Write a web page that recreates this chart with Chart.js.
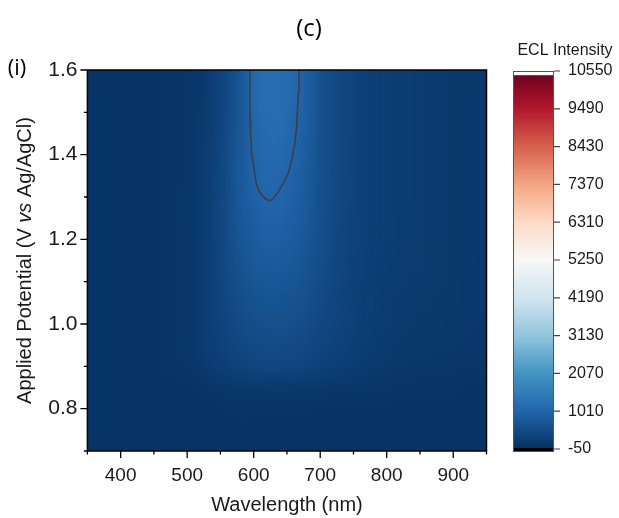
<!DOCTYPE html>
<html>
<head>
<meta charset="utf-8">
<script src="https://cdn.jsdelivr.net/npm/chart.js@4.4.1/dist/chart.umd.min.js"></script>
<style>
  html, body { margin: 0; padding: 0; background: #ffffff; }
  #wrap { position: relative; width: 619px; height: 518px; }
  #wrap canvas { position: absolute; left: 0; top: 0; }
</style>
</head>
<body>
<div id="wrap">
  <canvas id="map" width="619" height="518"></canvas>
  <canvas id="bar" width="619" height="518"></canvas>
</div>
<script>
// Grid of the ECL map: wavelength columns (nm) and potential rows (V), top row first
const wavelengths = [350, 375, 400, 425, 450, 475, 500, 525, 550, 575, 600, 625, 650,
                     675, 700, 725, 750, 775, 800, 825, 850, 875, 900, 925, 950];
const potentials = [1.60, 1.55, 1.50, 1.45, 1.40, 1.35, 1.30, 1.25, 1.20, 1.15,
                    1.10, 1.05, 1.00, 0.95, 0.90, 0.85, 0.80, 0.75, 0.70];

// ECL intensity (a.u.), one row per potential, one value per wavelength
const intensity = [
  [30,30,30,30,30,40,60,130,300,600,1060,1210,1150,920,600,420,320,250,210,190,170,150,130,120,110],
  [30,30,30,30,30,40,60,130,310,620,1050,1200,1140,920,600,420,320,250,210,190,170,150,130,120,110],
  [30,30,30,30,30,40,60,140,320,640,1030,1180,1120,910,600,420,320,250,210,190,170,150,130,120,110],
  [30,30,30,30,30,40,65,150,340,660,1000,1150,1090,890,600,430,320,250,210,190,170,150,130,120,110],
  [30,30,30,30,30,40,70,160,360,680,975,1110,1040,860,590,430,320,250,210,190,170,150,130,120,110],
  [30,30,30,30,30,45,75,170,380,690,945,1065,990,830,580,430,320,250,210,190,170,150,130,120,110],
  [30,30,30,30,30,45,80,180,390,680,910,1015,950,800,570,420,320,250,210,190,170,150,130,120,110],
  [30,30,30,30,30,45,80,190,390,660,860,955,900,770,560,410,310,250,210,180,170,150,130,120,110],
  [30,30,30,30,30,45,85,190,380,630,800,885,840,720,540,400,300,240,200,180,160,140,130,120,110],
  [30,30,30,30,30,45,85,190,370,590,740,805,770,670,510,380,290,230,190,170,160,140,130,120,110],
  [30,30,30,30,30,45,85,190,350,540,670,720,700,620,480,360,280,220,180,160,150,140,120,110,100],
  [30,30,30,30,30,45,85,180,330,490,600,640,620,560,440,340,270,210,170,150,140,130,120,100,100],
  [30,30,30,30,30,45,85,180,310,440,530,560,550,500,400,320,260,200,160,140,130,120,110,100,90],
  [30,30,30,30,30,45,80,170,290,390,460,480,470,430,350,290,240,180,150,130,120,110,100,90,80],
  [30,30,30,30,30,40,70,130,220,310,360,380,370,340,285,230,190,150,120,110,90,80,70,60,60],
  [30,30,30,30,30,30,35,55,80,100,115,120,118,110,100,90,80,70,60,50,45,40,40,35,35],
  [30,30,30,30,30,30,30,30,35,40,42,45,42,40,38,35,35,33,32,30,30,30,30,30,30],
  [30,30,30,30,30,30,30,30,30,30,30,30,30,30,30,30,30,30,30,30,30,30,30,30,30],
  [30,30,30,30,30,30,30,30,30,30,30,30,30,30,30,30,30,30,30,30,30,30,30,30,30]
];

// Contour line traced through the peak region
const contourWavelength = [594.4, 594.4, 594.6, 595.2, 597.0, 599.4, 601.8, 604.4, 608.0,
                           612.0, 618.0, 624.5, 629.5, 637.0, 644.5, 652.0, 657.0, 662.0,
                           664.6, 667.0, 668.0];
const contourPotential = [1.600, 1.520, 1.480, 1.450, 1.403, 1.380, 1.352, 1.328, 1.314,
                          1.305, 1.295, 1.291, 1.297, 1.312, 1.332, 1.356, 1.387, 1.427,
                          1.466, 1.545, 1.600];

// Axis ticks
const xTicks = [400, 500, 600, 700, 800, 900];
const xMinorTicks = [350, 450, 550, 650, 750, 850, 950];
const yTicks = [0.8, 1.0, 1.2, 1.4, 1.6];
const yMinorTicks = [0.7, 0.9, 1.1, 1.3, 1.5];
const colorbarTicks = [-50, 1010, 2070, 3130, 4190, 5250, 6310, 7370, 8430, 9490, 10550];

// Diverging blue-white-red palette spread evenly over the colour bar range
const paletteStops = ['#053061', '#2166ac', '#4393c3', '#92c5de', '#d1e5f0', '#f7f7f7',
                      '#fddbc7', '#f4a582', '#d6604d', '#b2182b', '#67001f'];
const cbMin = colorbarTicks[0];
const cbMax = colorbarTicks[colorbarTicks.length - 1];

function hexToRgb(h) {
  return [parseInt(h.slice(1, 3), 16), parseInt(h.slice(3, 5), 16), parseInt(h.slice(5, 7), 16)];
}
const paletteRgb = paletteStops.map(hexToRgb);

function rgbFor(v) {
  let t = (v - cbMin) / (cbMax - cbMin) * (paletteRgb.length - 1);
  t = Math.max(0, Math.min(paletteRgb.length - 1, t));
  const i = Math.min(paletteRgb.length - 2, Math.floor(t));
  const f = t - i;
  const a = paletteRgb[i], b = paletteRgb[i + 1];
  return a.map((ai, k) => Math.round(ai + (b[k] - ai) * f));
}
function colorFor(v) {
  const c = rgbFor(v);
  return `rgb(${c[0]},${c[1]},${c[2]})`;
}

const sans = "'Liberation Sans', Arial, sans-serif";
const labelFont = "'Open Sans', 'Noto Sans', sans-serif";

// One texel per grid cell; the canvas scales it smoothly onto the plot area
function buildTexture() {
  const off = document.createElement('canvas');
  off.width = wavelengths.length;
  off.height = potentials.length;
  const octx = off.getContext('2d');
  const img = octx.createImageData(off.width, off.height);
  potentials.forEach((p, r) => {
    wavelengths.forEach((w, c) => {
      const rgb = rgbFor(intensity[r][c]);
      const k = (r * off.width + c) * 4;
      img.data[k] = rgb[0]; img.data[k + 1] = rgb[1]; img.data[k + 2] = rgb[2]; img.data[k + 3] = 255;
    });
  });
  octx.putImageData(img, 0, 0);
  return off;
}
const texture = buildTexture();

// Filled intensity map, painted under the contour line
const heatmapPlugin = {
  id: 'heatmap',
  beforeDatasetsDraw(chart) {
    const { ctx, chartArea: a, scales: { x, y } } = chart;
    const dw = (wavelengths[1] - wavelengths[0]) / 2;
    const dp = Math.abs(potentials[0] - potentials[1]) / 2;
    const x0 = x.getPixelForValue(wavelengths[0] - dw);
    const x1 = x.getPixelForValue(wavelengths[wavelengths.length - 1] + dw);
    const y0 = y.getPixelForValue(potentials[0] + dp);
    const y1 = y.getPixelForValue(potentials[potentials.length - 1] - dp);
    ctx.save();
    ctx.beginPath();
    ctx.rect(a.left, a.top, a.right - a.left, a.bottom - a.top);
    ctx.clip();
    ctx.imageSmoothingEnabled = true;
    ctx.imageSmoothingQuality = 'high';
    ctx.drawImage(texture, 0, 0, texture.width, texture.height, x0, y0, x1 - x0, y1 - y0);
    ctx.restore();
  },
  afterDraw(chart) {
    const { ctx, chartArea: a, scales: { x, y } } = chart;
    ctx.save();
    // frame
    ctx.strokeStyle = '#000';
    ctx.lineWidth = 1.5;
    ctx.strokeRect(a.left, a.top, a.right - a.left, a.bottom - a.top);
    // tick marks, pointing outward on the bottom and left axes
    ctx.lineWidth = 1.3;
    ctx.beginPath();
    xTicks.forEach(v => { const px = x.getPixelForValue(v); ctx.moveTo(px, a.bottom); ctx.lineTo(px, a.bottom + 7); });
    xMinorTicks.forEach(v => { const px = x.getPixelForValue(v); ctx.moveTo(px, a.bottom); ctx.lineTo(px, a.bottom + 3.5); });
    yTicks.forEach(v => { const py = y.getPixelForValue(v); ctx.moveTo(a.left, py); ctx.lineTo(a.left - 7, py); });
    yMinorTicks.forEach(v => { const py = y.getPixelForValue(v); ctx.moveTo(a.left, py); ctx.lineTo(a.left - 3.5, py); });
    ctx.stroke();

    // axis titles
    ctx.fillStyle = '#1a1a1a';
    ctx.font = `20px ${sans}`;
    ctx.textAlign = 'center';
    ctx.textBaseline = 'middle';
    ctx.fillText('Wavelength (nm)', (a.left + a.right) / 2, 505);

    const parts = [
      { t: 'Applied Potential (V ', f: `20px ${sans}` },
      { t: 'vs', f: `italic 20px ${sans}` },
      { t: ' Ag/AgCl)', f: `20px ${sans}` }
    ];
    const widths = parts.map(p => { ctx.font = p.f; return ctx.measureText(p.t).width; });
    const total = widths.reduce((s, w) => s + w, 0);
    ctx.translate(25, (a.top + a.bottom) / 2);
    ctx.rotate(-Math.PI / 2);
    ctx.textAlign = 'left';
    let cx = -total / 2;
    parts.forEach((p, i) => { ctx.font = p.f; ctx.fillText(p.t, cx, 0); cx += widths[i]; });
    ctx.restore();

    // panel labels
    ctx.save();
    ctx.fillStyle = '#000';
    ctx.textAlign = 'center';
    ctx.textBaseline = 'middle';
    ctx.font = `24px ${labelFont}`;
    ctx.fillText('(c)', 309, 29);
    ctx.font = `22px ${labelFont}`;
    ctx.fillText('(i)', 17, 69);
    ctx.restore();
  }
};

new Chart(document.getElementById('map'), {
  type: 'scatter',
  data: {
    datasets: [{
      data: contourWavelength.map((w, i) => ({ x: w, y: contourPotential[i] })),
      showLine: true,
      borderColor: '#3f3f3f',
      borderWidth: 1.6,
      pointRadius: 0,
      tension: 0,
      fill: false
    }]
  },
  options: {
    responsive: false,
    animation: false,
    events: [],
    layout: { padding: { left: 0, right: 132.5, top: 70, bottom: 0 } },
    plugins: { legend: { display: false }, tooltip: { enabled: false } },
    scales: {
      x: {
        type: 'linear', min: 350, max: 950,
        afterBuildTicks: s => { s.ticks = xTicks.map(v => ({ value: v })); },
        afterFit: s => { s.height = 67; },
        grid: { display: false, drawTicks: false },
        border: { display: false },
        ticks: { padding: 13, color: '#1a1a1a', font: { family: sans, size: 19 } }
      },
      y: {
        type: 'linear', min: 0.7, max: 1.6,
        afterBuildTicks: s => { s.ticks = yTicks.map(v => ({ value: v })); },
        afterFit: s => { s.width = 87.4; },
        grid: { display: false, drawTicks: false },
        border: { display: false },
        ticks: { padding: 10, color: '#1a1a1a', font: { family: sans, size: 21 },
                 callback: v => Number(v).toFixed(1) }
      }
    }
  },
  plugins: [heatmapPlugin]
});

// Colour bar drawn on its own value scale
const colorbarPlugin = {
  id: 'colorbar',
  beforeDatasetsDraw(chart) {
    const { ctx, chartArea: a, scales: { y } } = chart;
    ctx.save();
    for (let py = Math.floor(a.top); py < Math.ceil(a.bottom); py++) {
      ctx.fillStyle = colorFor(y.getValueForPixel(py + 0.5));
      ctx.fillRect(a.left, py, a.right - a.left, 1);
    }
    // over-range and under-range swatches
    ctx.fillStyle = '#ffffff';
    ctx.fillRect(a.left, a.top, a.right - a.left, 4);
    ctx.fillStyle = '#000000';
    ctx.fillRect(a.left, a.bottom - 1, a.right - a.left, 4);
    ctx.strokeStyle = '#555';
    ctx.lineWidth = 1;
    ctx.strokeRect(a.left + 0.5, a.top + 0.5, a.right - a.left - 1, a.bottom - a.top + 2);
    ctx.beginPath();
    ctx.moveTo(a.left, a.top + 4.5); ctx.lineTo(a.right, a.top + 4.5);
    ctx.stroke();
    // ticks
    ctx.strokeStyle = '#444';
    ctx.lineWidth = 1.2;
    ctx.beginPath();
    colorbarTicks.forEach(v => { const py = y.getPixelForValue(v); ctx.moveTo(a.right, py); ctx.lineTo(a.right + 6, py); });
    ctx.stroke();
    // title
    ctx.fillStyle = '#1a1a1a';
    ctx.font = `16px ${sans}`;
    ctx.textAlign = 'center';
    ctx.textBaseline = 'alphabetic';
    ctx.fillText('ECL Intensity', 565, 55);
    ctx.restore();
  }
};

new Chart(document.getElementById('bar'), {
  type: 'scatter',
  data: { datasets: [] },
  options: {
    responsive: false,
    animation: false,
    events: [],
    layout: { padding: { left: 513, right: 0, top: 71, bottom: 69 } },
    plugins: { legend: { display: false }, tooltip: { enabled: false } },
    scales: {
      x: { display: false, min: 0, max: 1 },
      y: {
        type: 'linear', position: 'right', min: cbMin, max: cbMax,
        afterBuildTicks: s => { s.ticks = colorbarTicks.map(v => ({ value: v })); },
        afterFit: s => { s.width = 65; },
        grid: { display: false, drawTicks: false },
        border: { display: false },
        ticks: { padding: 14, color: '#1a1a1a', font: { family: sans, size: 16 },
                 callback: v => String(v) }
      }
    }
  },
  plugins: [colorbarPlugin]
});
</script>
</body>
</html>
